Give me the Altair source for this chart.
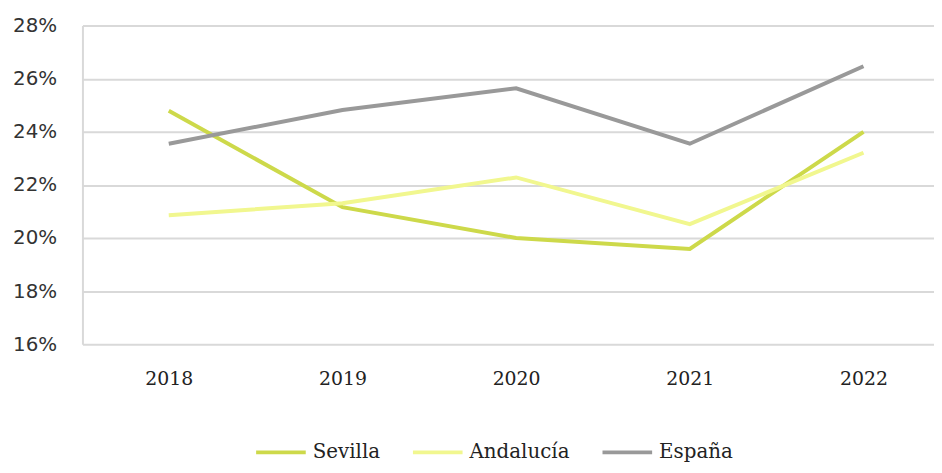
import altair as alt
import pandas as pd

years = [2018, 2019, 2020, 2021, 2022]
sevilla = [24.79, 21.16, 20.0, 19.59, 24.0]
andalucia = [20.86, 21.31, 22.28, 20.52, 23.21]
espana = [23.55, 24.82, 25.64, 23.55, 26.47]
series = ["Sevilla", "Andalucía", "España"]
colors = ["#cdd94a", "#f1f78f", "#999999"]

rows = []
for name, vals in zip(series, [sevilla, andalucia, espana]):
    for y, v in zip(years, vals):
        rows.append({"year": y, "value": v / 100, "serie": name})
df = pd.DataFrame(rows)

chart = alt.Chart(df).mark_line(strokeWidth=4).encode(
    x=alt.X("year:Q",
            scale=alt.Scale(domain=[2017.503, 2022.406], nice=False, zero=False),
            axis=alt.Axis(values=years, format="d", title=None, grid=False,
                          domain=False, ticks=False, labelFont="DejaVu Serif",
                          labelFontSize=19, labelColor="#222222", labelPadding=26,
                          labelFlush=False)),
    y=alt.Y("value:Q",
            scale=alt.Scale(domain=[0.16, 0.28], nice=False, zero=False),
            axis=alt.Axis(values=[0.16, 0.18, 0.20, 0.22, 0.24, 0.26, 0.28],
                          format=".0%", title=None, gridColor="#d9d9d9",
                          gridWidth=2, domain=True, domainColor="#d9d9d9",
                          domainWidth=2, ticks=False, labelFont="DejaVu Sans",
                          labelFontSize=20, labelColor="#333333", labelPadding=26)),
    color=alt.Color("serie:N",
                    scale=alt.Scale(domain=series, range=colors),
                    sort=series,
                    legend=alt.Legend(title=None, orient="none", direction="horizontal",
                                      legendX=173, legendY=403,
                                      symbolType="stroke", symbolSize=2500,
                                      symbolStrokeWidth=4, labelFont="DejaVu Serif",
                                      labelFontSize=20, labelColor="#222222",
                                      columnPadding=25, labelOffset=5,
                                      symbolOffset=0)),
).properties(
    width=858, height=321,
    autosize=alt.AutoSizeParams(type="none"),
    padding={"left": 75, "top": 16, "right": 0, "bottom": 120},
).configure_view(stroke=None)

chart.save("out.html", embed_options={"renderer": "svg", "actions": False})
